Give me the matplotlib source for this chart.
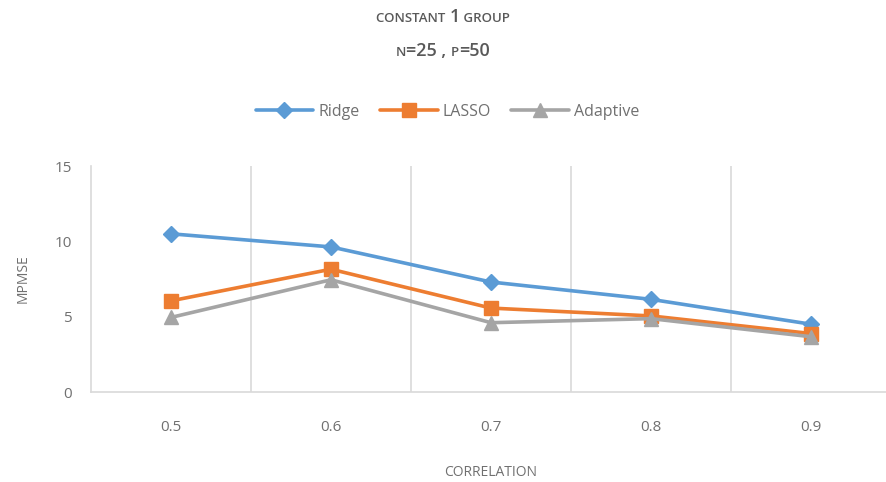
import matplotlib
matplotlib.use("Agg")
from matplotlib import pyplot as plt
import numpy as np

# data
correlation = ["0.5", "0.6", "0.7", "0.8", "0.9"]
ridge = [10.5, 9.63, 7.3, 6.15, 4.5]
lasso = [6.05, 8.15, 5.57, 5.05, 3.88]
adaptive = [4.95, 7.45, 4.6, 4.87, 3.67]
series_names = ["Ridge", "LASSO", "Adaptive"]
y_ticks = [0, 5, 10, 15]

plt.rcParams['font.family'] = ['Open Sans', 'DejaVu Sans']
TXT = '#595959'

fig = plt.figure(figsize=(8.86, 4.82), dpi=100)
ax = fig.add_axes([0.1027, 0.1867, 0.9029, 0.4689])

x = np.arange(len(correlation))
styles = [
    (ridge, '#5B9BD5', 'D', 8),
    (lasso, '#ED7D31', 's', 9.5),
    (adaptive, '#A5A5A5', '^', 10),
]
for (vals, col, mk, ms), name in zip(styles, series_names):
    ax.plot(x, vals, color=col, lw=2.6, marker=mk, ms=ms, label=name,
            solid_capstyle='round', zorder=3)

ax.set_xlim(-0.5, len(correlation) - 0.5)
ax.set_ylim(0, 15)
ax.set_yticks(y_ticks)
ax.set_xticks(x)
ax.set_xticklabels(correlation)
# category boundaries as vertical gridlines
for b in np.arange(0.5, len(correlation) - 0.5, 1):
    ax.axvline(b, color='#D9D9D9', lw=1.2, zorder=1)

for s in ['top', 'right']:
    ax.spines[s].set_visible(False)
for s in ['left', 'bottom']:
    ax.spines[s].set_color('#D9D9D9')
    ax.spines[s].set_linewidth(1.2)
ax.tick_params(length=0, labelsize=11, labelcolor='#707070')
ax.tick_params(axis='x', pad=20)
ax.tick_params(axis='y', pad=14)
ax.set_ylabel('MPMSE', fontsize=10, color='#707070', labelpad=17)
ax.set_xlabel('CORRELATION', fontsize=10, color='#707070', labelpad=22)

fig.legend(loc='center', bbox_to_anchor=(0.505, 0.768), ncol=3, frameon=False,
           fontsize=11.5, labelcolor='#707070', handlelength=3.6,
           columnspacing=1.3, handletextpad=0.3)


def caps_line(y, pieces):
    r = fig.canvas.get_renderer()
    texts = [fig.text(0, y, s, fontsize=fs, color=TXT, fontweight='semibold',
                      va='baseline') for s, fs in pieces]
    widths = [t.get_window_extent(r).width for t in texts]
    pos = (fig.bbox.width - sum(widths)) / 2
    for t, w in zip(texts, widths):
        t.set_x(pos / fig.bbox.width)
        pos += w


caps_line(1 - 22 / 482, [("CONSTANT ", 9.5), ("1", 13), (" GROUP", 9.5)])
caps_line(1 - 56 / 482, [("N", 9.5), ("=25 , ", 13), ("P", 9.5), ("=50", 13)])

fig.savefig('out.png', dpi=100)
